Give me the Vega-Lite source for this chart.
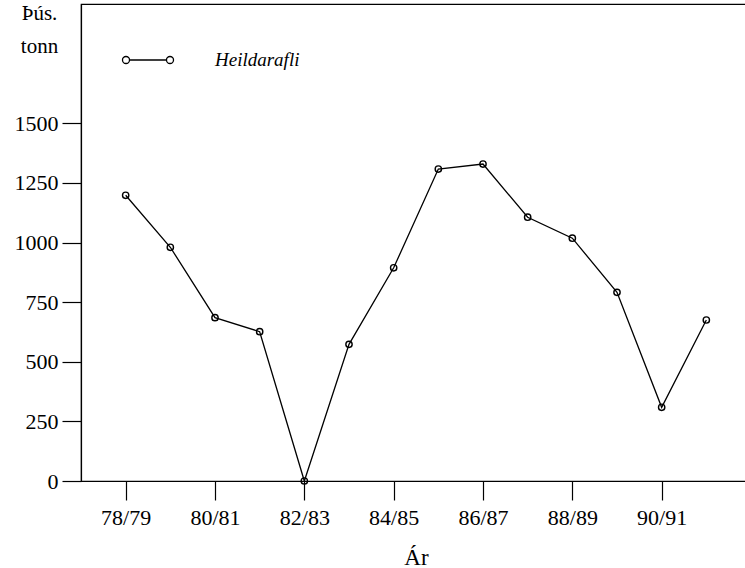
{
  "$schema": "https://vega.github.io/schema/vega-lite/v6.json",
  "autosize": {"type": "none"},
  "padding": {"left": 81, "top": 4, "right": 0, "bottom": 87},
  "width": 670,
  "height": 477,
  "background": "white",
  "config": {
    "font": "Liberation Serif",
    "view": {"stroke": "black", "strokeWidth": 1.2},
    "axis": {"grid": false, "domainColor": "black", "tickColor": "black", "labelColor": "black", "titleColor": "black", "labelFont": "Liberation Serif", "titleFont": "Liberation Serif", "titleFontWeight": "normal"}
  },
  "data": {"values": [
    {"year": 78, "series": "Heildarafli", "value": 1198},
    {"year": 79, "series": "Heildarafli", "value": 980},
    {"year": 80, "series": "Heildarafli", "value": 685},
    {"year": 81, "series": "Heildarafli", "value": 626},
    {"year": 82, "series": "Heildarafli", "value": 0},
    {"year": 83, "series": "Heildarafli", "value": 573},
    {"year": 84, "series": "Heildarafli", "value": 894},
    {"year": 85, "series": "Heildarafli", "value": 1308},
    {"year": 86, "series": "Heildarafli", "value": 1329},
    {"year": 87, "series": "Heildarafli", "value": 1106},
    {"year": 88, "series": "Heildarafli", "value": 1018},
    {"year": 89, "series": "Heildarafli", "value": 791},
    {"year": 90, "series": "Heildarafli", "value": 309},
    {"year": 91, "series": "Heildarafli", "value": 675}
  ]},
  "encoding": {
    "x": {"field": "year", "type": "quantitative",
      "scale": {"domain": [77, 92], "nice": false, "zero": false},
      "axis": {"title": "Ár", "values": [78, 80, 82, 84, 86, 88, 90],
        "labelExpr": "datum.value + '/' + (datum.value + 1)",
        "tickSize": 19, "tickWidth": 1.2, "domainWidth": 1.2, "labelFontSize": 22, "labelPadding": 7,
        "titleFontSize": 23, "titleY": 83, "titleBaseline": "alphabetic"}},
    "y": {"field": "value", "type": "quantitative",
      "scale": {"domain": [0, 2000], "nice": false},
      "axis": {"title": ["Þús.", "tonn"], "values": [0, 250, 500, 750, 1000, 1250, 1500], "format": "d",
        "tickSize": 19, "tickWidth": 1.2, "domainWidth": 1.2, "labelFontSize": 22, "labelPadding": 4,
        "titleFontSize": 21, "titleAngle": 0, "titleX": -42, "titleY": 15, "titleAlign": "center", "titleBaseline": "alphabetic", "titleLineHeight": 33, "titleAnchor": null}}
  },
  "layer": [
    {
      "mark": {"type": "line", "strokeWidth": 1.3},
      "encoding": {
        "color": {"field": "series", "type": "nominal", "scale": {"range": ["black"]},
          "legend": {"title": null, "orient": "none", "legendX": 44, "legendY": 33, "padding": 0,
            "symbolType": "M -1 0 m -0.16 0 a 0.16 0.16 0 1 0 0.32 0 a 0.16 0.16 0 1 0 -0.32 0 M -0.84 0 L 0.84 0 M 0.84 0 a 0.16 0.16 0 1 0 0.32 0 a 0.16 0.16 0 1 0 -0.32 0",
            "symbolSize": 1936, "symbolStrokeColor": "black", "symbolFillColor": "transparent", "symbolStrokeWidth": 1.3,
            "labelFont": "Liberation Serif", "labelFontStyle": "italic", "labelFontSize": 19, "labelColor": "black", "labelOffset": 44}}
      }
    },
    {
      "mark": {"type": "point", "shape": "circle", "filled": false, "size": 40, "strokeWidth": 1.4, "color": "black", "opacity": 1}
    }
  ]
}
